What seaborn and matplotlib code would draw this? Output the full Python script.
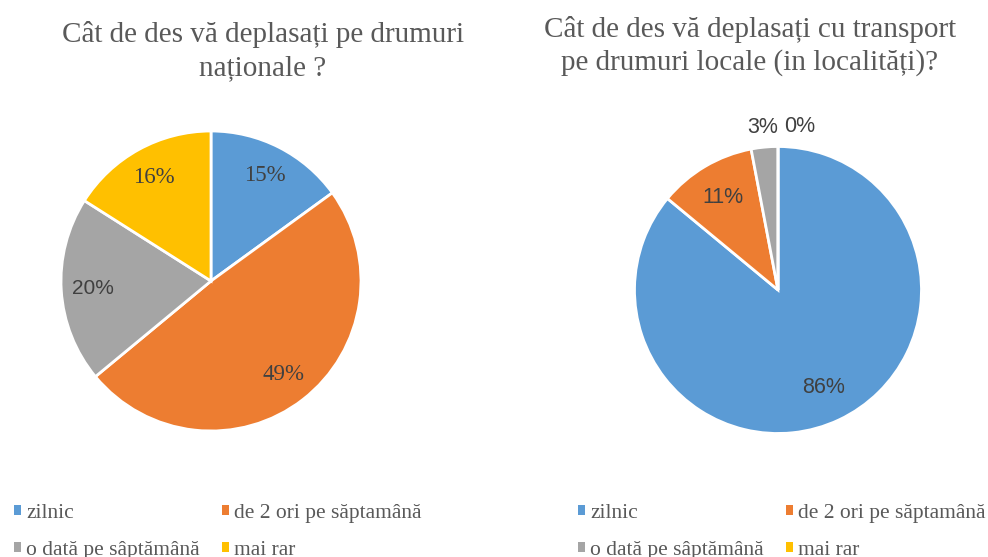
import matplotlib
matplotlib.use("Agg")
import matplotlib.pyplot as plt
import seaborn as sns
from matplotlib.patches import Patch
import numpy as np

categories = ["zilnic", "de 2 ori pe săptamână", "o dată pe sâptămână", "mai rar"]
national_values = [15, 49, 20, 16]
local_values = [86, 11, 3, 0]
title_left = "Cât de des vă deplasați pe drumuri\nnaționale ?"
title_right = "Cât de des vă deplasați cu transport\npe drumuri locale (in localități)?"

sns.set_theme(style="white")
colors = ["#5B9BD5", "#ED7D31", "#A5A5A5", "#FFC000"]
plt.rcParams['font.family'] = ['Liberation Serif', 'DejaVu Serif']

W, H = 988, 557
fig = plt.figure(figsize=(W / 100, H / 100), dpi=100)
fig.patch.set_facecolor("white")

def px_axes(cx, cy, r):
    return fig.add_axes([(cx - r) / W, (H - cy - r) / H, 2 * r / W, 2 * r / H])

text_col = "#404040"
leg_col = "#595959"

# Left pie
ax1 = px_axes(211, 281, 150)
wedges1, _, auto1 = ax1.pie(national_values, colors=colors, startangle=90, counterclock=False,
                            wedgeprops=dict(edgecolor="white", linewidth=2),
                            autopct=lambda p: f"{p:.0f}%", pctdistance=0.79,
                            textprops=dict(color=text_col, fontsize=16.5, family="Liberation Serif"))
ax1.set_xlim(-1, 1); ax1.set_ylim(-1, 1)
ax1.axis("off")
# the "20%" label is rendered in a sans font in the original
for val, txt in zip(national_values, auto1):
    if val == 20:
        txt.set_family("Liberation Sans")
        txt.set_fontsize(15)

# Right pie
ax2 = px_axes(778, 290, 143.5)
wedges2, _, auto2 = ax2.pie(local_values, colors=colors, startangle=90, counterclock=False,
                            wedgeprops=dict(edgecolor="white", linewidth=2),
                            autopct=lambda p: f"{p:.0f}%", pctdistance=0.75,
                            textprops=dict(color=text_col, fontsize=15.5, family="Liberation Sans"))
ax2.set_xlim(-1, 1); ax2.set_ylim(-1, 1)
ax2.axis("off")
for val, wdg, txt in zip(local_values, wedges2, auto2):
    if val < 5:
        ang = np.deg2rad((wdg.theta1 + wdg.theta2) / 2)
        d = 1.14
        txt.set_position((d * np.cos(ang), d * np.sin(ang)))
        if val == 0:
            txt.set_horizontalalignment("left")
            txt.set_position((0.04, d * np.sin(ang)))
        txt.set_clip_on(False)

# Titles
fig.text(263 / W, 1 - 51 / H, title_left, ha="center", va="center", fontsize=21,
         color="#595959", linespacing=1.33)
fig.text(750 / W, 1 - 46 / H, title_right, ha="center", va="center", fontsize=21,
         color="#595959", linespacing=1.33)

# Legends
def make_legend(ax, x_left, colspacing):
    order = [0, 2, 1, 3]
    handles = [Patch(facecolor=colors[i], edgecolor="none") for i in order]
    labels = [categories[i] for i in order]
    leg = ax.legend(handles, labels, ncol=2, frameon=False, loc="upper left",
                    bbox_to_anchor=(x_left / W, 1 - 504 / H), bbox_transform=fig.transFigure,
                    borderpad=0, borderaxespad=0, handlelength=0.33, handleheight=0.33,
                    handletextpad=0.25, labelspacing=0.84, columnspacing=colspacing,
                    prop=dict(family="Liberation Serif", size=15.5))
    for t in leg.get_texts():
        t.set_color(leg_col)
    return leg

make_legend(ax1, 14, 1.0)
make_legend(ax2, 578, 1.0)

fig.savefig("out.png", dpi=100, facecolor="white")
